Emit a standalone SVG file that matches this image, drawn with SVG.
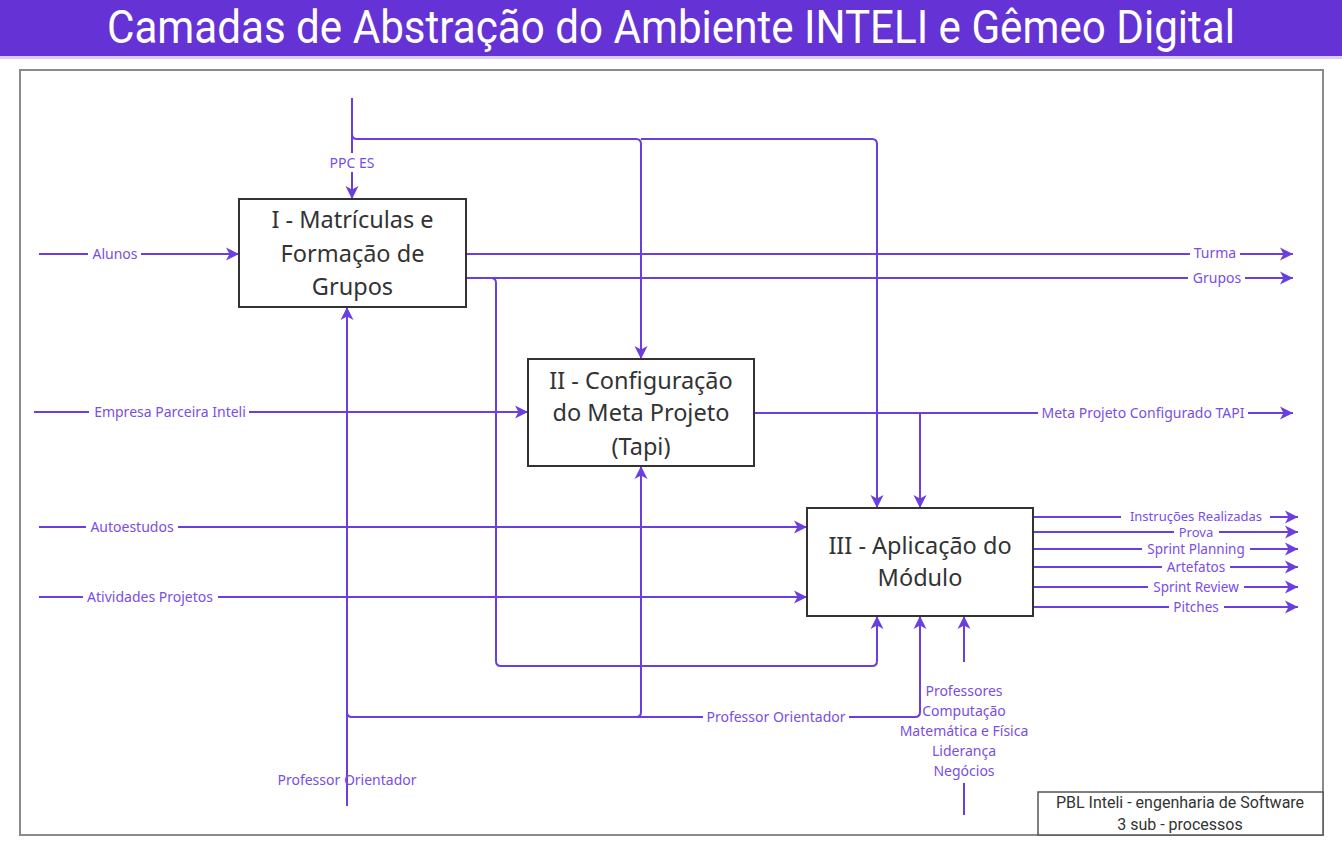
<svg xmlns="http://www.w3.org/2000/svg" width="1342" height="853" viewBox="0 0 1342 853">
<defs>
<marker id="ah" markerUnits="userSpaceOnUse" markerWidth="14" markerHeight="14" refX="13" refY="7" orient="auto">
<path d="M0,0.5 L13,7 L0,13.5 L3.5,7 Z" fill="#6a3ee0"/>
</marker>
<style>
.ln{fill:none;stroke:#6a3ee0;stroke-width:2}
.ar{marker-end:url(#ah)}
.lb{font-family:"Noto Sans","Open Sans",sans-serif;font-size:14px;fill:#7a4ee6;text-anchor:middle}
.sm{font-size:13.5px}
.xs{font-size:13px}
.bg{fill:#ffffff}
.box{fill:#ffffff;stroke:#333333;stroke-width:2}
.bt{font-family:"Noto Sans","Open Sans",sans-serif;font-size:23.5px;fill:#333333;text-anchor:middle}
</style>
</defs>
<rect x="0" y="0" width="1342" height="853" fill="#ffffff"/>
<g id="title">
<rect x="0" y="0" width="1342" height="56" fill="#6532d5"/>
<rect x="0" y="56" width="1342" height="3" fill="#d9ccf6"/>
<text x="671" y="43" font-family="Roboto,'Liberation Sans',sans-serif" font-size="46" fill="#ffffff" text-anchor="middle" textLength="1128" lengthAdjust="spacingAndGlyphs">Camadas de Abstração do Ambiente INTELI e Gêmeo Digital</text>
</g>
<rect id="frame" x="20" y="70" width="1303" height="765" fill="none" stroke="#8a8a8a" stroke-width="2"/>
<g id="connectors">
<path class="ln ar" d="M352,98 V199"/>
<path class="ln ar" d="M352,134 Q352,139 357,139 H636 Q641,139 641,144 V359"/>
<path class="ln ar" d="M641,139 H872 Q877,139 877,144 V508"/>
<path class="ln ar" d="M39,254 H239"/>
<path class="ln ar" d="M466,254 H1293"/>
<path class="ln ar" d="M466,278 H1293"/>
<path class="ln ar" d="M466,278 H491 Q496,278 496,283 V661 Q496,666 501,666 H872 Q877,666 877,661 V616"/>
<path class="ln ar" d="M34,412 H528"/>
<path class="ln ar" d="M754,413 H1293"/>
<path class="ln ar" d="M920,413 V508"/>
<path class="ln ar" d="M39,527 H807"/>
<path class="ln ar" d="M39,597 H807"/>
<path class="ln ar" d="M347,806 V307"/>
<path class="ln" d="M347,712 Q347,717 352,717 H915 Q920,717 920,712 V640"/>
<path class="ln ar" d="M920,640 V616"/>
<path class="ln ar" d="M636,717 Q641,717 641,712 V466"/>
<path class="ln" d="M964,815 V783"/>
<path class="ln ar" d="M964,662 V616"/>
<path class="ln ar" d="M1033,517 H1298"/>
<path class="ln ar" d="M1033,532 H1298"/>
<path class="ln ar" d="M1033,549 H1298"/>
<path class="ln ar" d="M1033,567 H1298"/>
<path class="ln ar" d="M1033,587 H1298"/>
<path class="ln ar" d="M1033,607 H1298"/>
</g>
<g id="labels">
<rect class="bg" x="328" y="153" width="48" height="19"/>
<text class="lb" x="352" y="168">PPC ES</text>
<rect class="bg" x="88" y="246" width="53" height="16"/>
<text class="lb" x="115" y="259">Alunos</text>
<rect class="bg" x="1190" y="245" width="50" height="16"/>
<text class="lb" x="1215" y="258">Turma</text>
<rect class="bg" x="1188" y="270" width="57" height="16"/>
<text class="lb" x="1217" y="283">Grupos</text>
<rect class="bg" x="89" y="404" width="160" height="16"/>
<text class="lb" x="170" y="417">Empresa Parceira Inteli</text>
<rect class="bg" x="1038" y="405" width="210" height="16"/>
<text class="lb" x="1143" y="418">Meta Projeto Configurado TAPI</text>
<rect class="bg" x="86" y="519" width="92" height="16"/>
<text class="lb" x="132" y="532">Autoestudos</text>
<rect class="bg" x="83" y="589" width="135" height="16"/>
<text class="lb" x="150" y="602">Atividades Projetos</text>
<rect class="bg" x="703" y="709" width="146" height="16"/>
<text class="lb" x="776" y="722">Professor Orientador</text>
<text class="lb" x="347" y="785">Professor Orientador</text>
<rect class="bg" x="1121" y="511" width="149" height="12"/>
<text class="lb xs" x="1196" y="521">Instruções Realizadas</text>
<rect class="bg" x="1174" y="526" width="45" height="12"/>
<text class="lb xs" x="1196" y="537">Prova</text>
<rect class="bg" x="1142" y="542" width="108" height="14"/>
<text class="lb sm" x="1196" y="554">Sprint Planning</text>
<rect class="bg" x="1162" y="560" width="68" height="14"/>
<text class="lb sm" x="1196" y="572">Artefatos</text>
<rect class="bg" x="1148" y="580" width="96" height="14"/>
<text class="lb sm" x="1196" y="592">Sprint Review</text>
<rect class="bg" x="1169" y="600" width="55" height="14"/>
<text class="lb sm" x="1196" y="612">Pitches</text>
<text class="lb" x="964" y="696">Professores</text>
<text class="lb" x="964" y="716">Computação</text>
<text class="lb" x="964" y="736">Matemática e Física</text>
<text class="lb" x="964" y="756">Liderança</text>
<text class="lb" x="964" y="776">Negócios</text>
</g>
<g id="node-1">
<rect class="box" x="239" y="199" width="227" height="108"/>
<text class="bt" x="352.5" y="228">I - Matrículas e</text>
<text class="bt" x="352.5" y="262">Formação de</text>
<text class="bt" x="352.5" y="295">Grupos</text>
</g>
<g id="node-2">
<rect class="box" x="528" y="359" width="226" height="107"/>
<text class="bt" x="641" y="389">II - Configuração</text>
<text class="bt" x="641" y="421">do Meta Projeto</text>
<text class="bt" x="641" y="455">(Tapi)</text>
</g>
<g id="node-3">
<rect class="box" x="807" y="508" width="226" height="108"/>
<text class="bt" x="920" y="554">III - Aplicação do</text>
<text class="bt" x="920" y="586">Módulo</text>
</g>
<g id="node-legend">
<rect x="1038" y="792" width="285" height="43" fill="#ffffff" stroke="#555555" stroke-width="1.5"/>
<text x="1180" y="808" font-family="Roboto,'Liberation Sans',sans-serif" font-size="16" fill="#333333" text-anchor="middle">PBL Inteli - engenharia de Software</text>
<text x="1180" y="830" font-family="Roboto,'Liberation Sans',sans-serif" font-size="16" fill="#333333" text-anchor="middle">3 sub - processos</text>
</g>
</svg>
